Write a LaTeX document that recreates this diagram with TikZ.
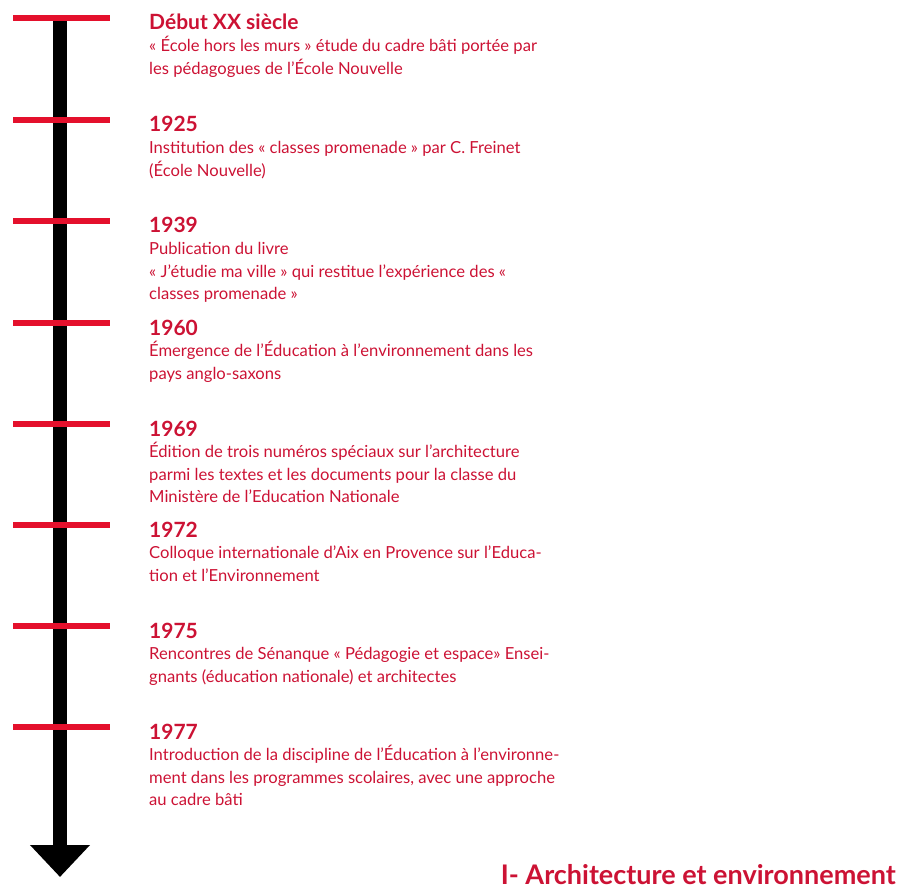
\documentclass[tikz,border=0pt]{standalone}
\usepackage{fontspec}
\setmainfont{Lato}
\usetikzlibrary{arrows.meta}
\definecolor{tickred}{RGB}{228,16,44}
\definecolor{textred}{RGB}{204,18,52}

\begin{document}
\begin{tikzpicture}[x=1pt,y=-1pt]

		\tikzstyle{year}  = [anchor=base west, inner sep=0pt, text=textred, font=\fontsize{21}{24}\selectfont\bfseries]
		\tikzstyle{desc}  = [anchor=north west, inner sep=0pt, align=left, text=textred, font=\fontsize{16.6}{22.3}\selectfont]
		\tikzstyle{tick}  = [draw=tickred, line width=5.5pt]
		\useasboundingbox (0,0) rectangle (900,888);

		%%Time axis
		\coordinate (top) at (60, 16);
		\coordinate (bottom) at (60, 877);
		\draw [line width=14pt, -{Triangle[width=58pt, length=32pt]}] (top)--(bottom);

		%%Ticks
		\foreach \t [count=\i] in {18, 120, 221, 323, 424, 525, 626, 727} {
			\coordinate (l\i) at (13, \t);
			\coordinate (r\i) at (110, \t);
			\draw [tick] (l\i)--(r\i);
		}

		%%Dates
		\node [year](y0) at (149, 30) {Début XX siècle};
		\node [year](y1925) at (149, 132) {1925};
		\node [year](y1939) at (149, 233) {1939};
		\node [year](y1960) at (149, 335) {1960};
		\node [year](y1969) at (149, 436) {1969};
		\node [year](y1972) at (149, 537) {1972};
		\node [year](y1975) at (149, 638) {1975};
		\node [year](y1977) at (149, 739) {1977};

		%%Events
		\node [desc](d0) at (149, 36) {\strut« École hors les murs » étude du cadre bâti portée par\\les pédagogues de l’École Nouvelle};
		\node [desc](d1925) at (149, 138) {\strut Institution des « classes promenade » par C. Freinet\\(École Nouvelle)};
		\node [desc](d1939) at (149, 239) {\strut Publication du livre\\« J’étudie ma ville » qui restitue l’expérience des «\\classes promenade »};
		\node [desc](d1960) at (149, 341) {\strut Émergence de l’Éducation à l’environnement dans les\\pays anglo-saxons};
		\node [desc](d1969) at (149, 442) {\strut Édition de trois numéros spéciaux sur l’architecture\\parmi les textes et les documents pour la classe du\\Ministère de l’Education Nationale};
		\node [desc](d1972) at (149, 543) {\strut Colloque internationale d’Aix en Provence sur l’Educa-\\tion et l’Environnement};
		\node [desc](d1975) at (149, 644) {\strut Rencontres de Sénanque « Pédagogie et espace» Ensei-\\gnants (éducation nationale) et architectes};
		\node [desc](d1977) at (149, 745) {\strut Introduction de la discipline de l’Éducation à l’environne-\\ment dans les programmes scolaires, avec une approche\\au cadre bâti};

		%%Chapter title
		\node [anchor=base east, inner sep=0pt, text=textred, font=\fontsize{27}{30}\selectfont\bfseries](chapter) at (896, 884) {I- Architecture et environnement};
	\end{tikzpicture}
\end{document}
